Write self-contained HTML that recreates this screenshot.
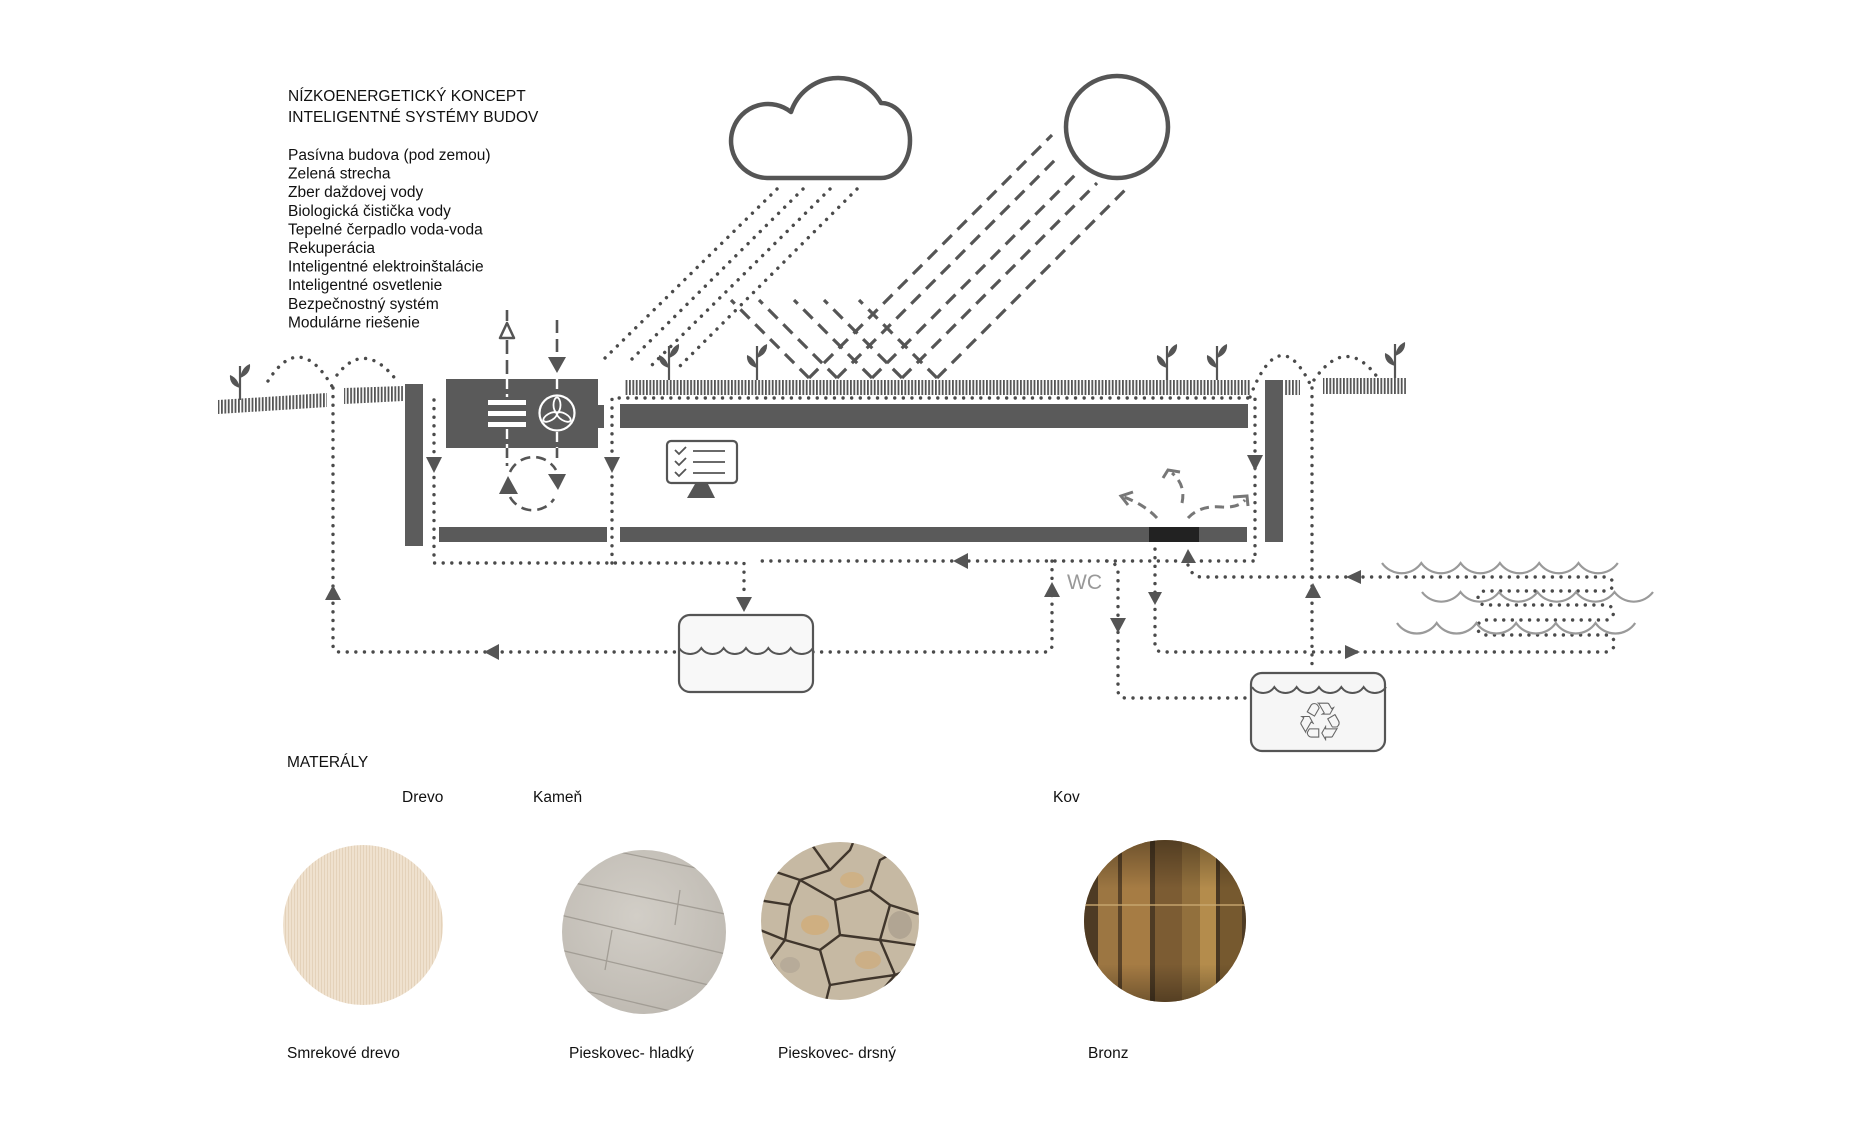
<!DOCTYPE html>
<html><head><meta charset="utf-8">
<style>
html,body{margin:0;padding:0;background:#fff;}
svg{display:block;}
text{font-family:"Liberation Sans",Arial,sans-serif;}
.d{fill:none;stroke:#4a4a4a;stroke-width:3.4;stroke-linecap:round;stroke-dasharray:0.01 8.6;}
.s{fill:none;stroke:#555;stroke-width:3.2;stroke-dasharray:13 8;}
.h{fill:none;stroke:#777;stroke-width:3;stroke-dasharray:9 6;}
.hs{fill:none;stroke:#777;stroke-width:3;}
.a{fill:#555;}
.wv{fill:none;stroke:#9a9a9a;stroke-width:2.2;}
</style></head><body>
<svg width="1872" height="1125" viewBox="0 0 1872 1125" xmlns="http://www.w3.org/2000/svg">
<defs>
<pattern id="g" width="3.4" height="40" patternUnits="userSpaceOnUse"><rect width="1.8" height="40" fill="#555"/></pattern>
<pattern id="wd" width="3" height="12" patternUnits="userSpaceOnUse"><rect width="3" height="12" fill="#efe1ce"/><rect width="1" height="12" fill="#e4d2ba"/></pattern>
<clipPath id="cw"><circle cx="363" cy="925" r="80"/></clipPath>
<clipPath id="cs"><circle cx="644" cy="932" r="82"/></clipPath>
<clipPath id="cr"><circle cx="840" cy="921" r="79"/></clipPath>
<clipPath id="cb"><circle cx="1165" cy="921" r="81"/></clipPath>
<radialGradient id="sg" cx="0.45" cy="0.4" r="0.7"><stop offset="0" stop-color="#d2cec7"/><stop offset="1" stop-color="#bcb7af"/></radialGradient>
<linearGradient id="bg" x1="0" y1="0" x2="0" y2="1"><stop offset="0" stop-color="#000" stop-opacity="0.35"/><stop offset="0.3" stop-color="#000" stop-opacity="0"/><stop offset="0.75" stop-color="#000" stop-opacity="0"/><stop offset="1" stop-color="#000" stop-opacity="0.35"/></linearGradient>
<g id="plant"><line x1="0" y1="0" x2="0" y2="-34" stroke="#555" stroke-width="2.2"/><path d="M0 -22 Q2 -33 10 -36 Q11 -26 0 -22Z" fill="#555"/><path d="M0 -12 Q-2 -22 -10 -25 Q-11 -15 0 -12Z" fill="#555"/></g>
</defs>

<!-- Left text -->
<g font-size="15.5" fill="#111">
<text x="288" y="101">NÍZKOENERGETICKÝ KONCEPT</text>
<text x="288" y="122">INTELIGENTNÉ SYSTÉMY BUDOV</text>
<text x="288" y="160">Pasívna budova (pod zemou)</text>
<text x="288" y="178.6">Zelená strecha</text>
<text x="288" y="197.2">Zber daždovej vody</text>
<text x="288" y="215.8">Biologická čistička vody</text>
<text x="288" y="234.4">Tepelné čerpadlo voda-voda</text>
<text x="288" y="253">Rekuperácia</text>
<text x="288" y="271.6">Inteligentné elektroinštalácie</text>
<text x="288" y="290.2">Inteligentné osvetlenie</text>
<text x="288" y="308.8">Bezpečnostný systém</text>
<text x="288" y="327.4">Modulárne riešenie</text>
</g>

<!-- Cloud and sun -->
<path d="M767 178 A37 37 0 1 1 791 112 A49.5 49.5 0 0 1 881 103 A29 37.5 0 0 1 881 178 Z" fill="#fff" stroke="#555" stroke-width="4.5" stroke-linejoin="round"/>
<circle cx="1117" cy="127" r="51" fill="#fff" stroke="#555" stroke-width="4.5"/>

<!-- Rain -->
<path class="d" d="M777 189 L602 361"/>
<path class="d" d="M803 189 L628 363"/>
<path class="d" d="M830 189 L652 365"/>
<path class="d" d="M857 189 L676 370"/>

<!-- Sun rays -->
<path class="s" d="M809 378 L1052 135 M809 378 L731 300"/>
<path class="s" d="M837 378 L1058 157 M837 378 L759 300"/>
<path class="s" d="M872 378 L1077 173 M872 378 L794 300"/>
<path class="s" d="M902 378 L1097 183 M902 378 L824 300"/>
<path class="s" d="M937 378 L1128 187 M937 378 L859 300"/>

<!-- Ground hatches -->
<polygon points="218,400 327,393 327,407 218,414" fill="url(#g)"/>
<polygon points="344,388 403,386 403,401 344,404" fill="url(#g)"/>
<rect x="625" y="380" width="625" height="15" fill="url(#g)"/>
<rect x="1285" y="380" width="15" height="15" fill="url(#g)"/>
<rect x="1323" y="378" width="83" height="16" fill="url(#g)"/>

<!-- Plants -->
<use href="#plant" x="240" y="400"/>
<use href="#plant" x="669" y="380"/>
<use href="#plant" x="757" y="380"/>
<use href="#plant" x="1167" y="380"/>
<use href="#plant" x="1217" y="380"/>
<use href="#plant" x="1395" y="378"/>

<!-- Structure -->
<rect x="405" y="384" width="18" height="162" fill="#5c5c5c"/>
<rect x="1265" y="380" width="18" height="162" fill="#5c5c5c"/>
<rect x="446" y="379" width="152" height="69" fill="#5a5a5a"/>
<rect x="598" y="405" width="6" height="23" fill="#5a5a5a"/>
<rect x="620" y="404" width="628" height="24" fill="#5a5a5a"/>
<rect x="439" y="527" width="168" height="15" fill="#5a5a5a"/>
<rect x="620" y="527" width="627" height="15" fill="#5a5a5a"/>
<rect x="1149" y="527" width="50" height="15" fill="#222"/>

<!-- HVAC details -->
<rect x="488" y="400" width="38" height="5" fill="#fff"/>
<rect x="488" y="411" width="38" height="5" fill="#fff"/>
<rect x="488" y="422" width="38" height="5" fill="#fff"/>
<circle cx="557" cy="413" r="17.5" fill="none" stroke="#fff" stroke-width="2.2"/>
<g fill="none" stroke="#fff" stroke-width="1.8">
<ellipse cx="557" cy="405" rx="3.5" ry="7.5"/>
<ellipse cx="557" cy="405" rx="3.5" ry="7.5" transform="rotate(120 557 413)"/>
<ellipse cx="557" cy="405" rx="3.5" ry="7.5" transform="rotate(240 557 413)"/>
</g>
<line x1="507" y1="310" x2="507" y2="321" stroke="#555" stroke-width="2.6"/>
<polygon points="500,338 514,338 507,323" fill="#fff" stroke="#555" stroke-width="2.5" stroke-linejoin="round"/>
<line x1="507" y1="340" x2="507" y2="379" stroke="#555" stroke-width="2.6" stroke-dasharray="14 6"/>
<line x1="557" y1="320" x2="557" y2="357" stroke="#555" stroke-width="2.6" stroke-dasharray="13 6"/>
<polygon class="a" points="548,357 566,357 557,373"/>
<line x1="507" y1="379" x2="507" y2="397" stroke="#fff" stroke-width="2.4" stroke-dasharray="10 5"/>
<line x1="507" y1="429" x2="507" y2="448" stroke="#fff" stroke-width="2.4" stroke-dasharray="10 5"/>
<line x1="557" y1="379" x2="557" y2="394" stroke="#fff" stroke-width="2.4" stroke-dasharray="10 5"/>
<line x1="557" y1="432" x2="557" y2="448" stroke="#fff" stroke-width="2.4" stroke-dasharray="10 5"/>
<line x1="507" y1="448" x2="507" y2="466" stroke="#555" stroke-width="2.6" stroke-dasharray="10 5"/>
<line x1="557" y1="448" x2="557" y2="462" stroke="#555" stroke-width="2.6" stroke-dasharray="10 5"/>
<path d="M510 472 A26 26 0 0 1 556 470" fill="none" stroke="#555" stroke-width="2.6" stroke-dasharray="10 6"/>
<path d="M510 497 A26 26 0 0 0 554 499" fill="none" stroke="#555" stroke-width="2.6" stroke-dasharray="10 6"/>
<polygon class="a" points="499,494 518,494 508,476"/>
<polygon class="a" points="548,474 566,474 558,490"/>

<!-- Monitor -->
<rect x="667" y="441" width="70" height="42" rx="4" fill="#fff" stroke="#555" stroke-width="2.2"/>
<polygon points="695,484 708,484 715,498 687,498" fill="#555"/>
<g fill="none" stroke="#555" stroke-width="1.8">
<polyline points="675,450 679,454 686,447"/><line x1="693" y1="451" x2="725" y2="451"/>
<polyline points="675,461 679,465 686,458"/><line x1="693" y1="462" x2="725" y2="462"/>
<polyline points="675,472 679,476 686,469"/><line x1="693" y1="473" x2="725" y2="473"/>
</g>

<!-- Heat arrows -->
<path class="h" d="M1157 518 Q1145 505 1124 497"/>
<path class="hs" d="M1133 492 L1121 496 L1128 505"/>
<path class="h" d="M1182 503 Q1186 485 1172 473"/>
<path class="hs" d="M1163 478 L1168 470 L1180 472"/>
<path class="h" d="M1188 518 Q1200 505 1222 507 Q1238 508 1245 500"/>
<path class="hs" d="M1233 497 L1247 496 L1248 506"/>

<!-- Dotted flows -->
<path class="d" d="M268 381 Q300 330 333 388"/>
<path class="d" d="M337 375 Q365 339 397 381"/>
<path class="d" d="M1250 397 Q1280 319 1312 388"/>
<path class="d" d="M1314 380 Q1346 334 1378 378"/>
<path class="d" d="M333 388 V645 Q333 652 340 652 H679"/>
<path class="d" d="M813 652 H1045 Q1052 652 1052 645 V561"/>
<path class="d" d="M434 400 V563 H744 V597"/>
<path class="d" d="M612 563 V398 H1255 V561 H755"/>
<path class="d" d="M1107 561 Q1118 563 1118 572 V690 Q1118 698 1126 698 H1251"/>
<path class="d" d="M1188 565 Q1192 577 1202 577 H1606 A7 7 0 0 1 1606 591 H1485 A7 7 0 0 0 1485 605 H1606 A7.5 7.5 0 0 1 1606 620 H1485 A7.5 7.5 0 0 0 1485 635 H1606 A8.5 8.5 0 0 1 1606 652 H1163 Q1155 652 1155 644 V549"/>
<path class="d" d="M1312 388 V668"/>

<!-- Arrowheads -->
<polygon class="a" points="426,457 442,457 434,473"/>
<polygon class="a" points="604,457 620,457 612,473"/>
<polygon class="a" points="1247,455 1263,455 1255,471"/>
<polygon class="a" points="325,600 341,600 333,585"/>
<polygon class="a" points="499,644 499,660 484,652"/>
<polygon class="a" points="736,597 752,597 744,612"/>
<polygon class="a" points="968,553 968,569 953,561"/>
<polygon class="a" points="1044,597 1060,597 1052,582"/>
<polygon class="a" points="1110,618 1126,618 1118,633"/>
<polygon class="a" points="1148,592 1162,592 1155,605"/>
<polygon class="a" points="1181,563 1196,563 1188,549"/>
<polygon class="a" points="1305,598 1321,598 1313,583"/>
<polygon class="a" points="1361,570 1361,584 1346,577"/>
<polygon class="a" points="1345,645 1345,659 1360,652"/>

<!-- WC -->
<text x="1067" y="589" font-size="21" fill="#999">WC</text>

<!-- Water waves (right) -->
<path class="wv" d="M1382 563 a24 24 0 0 0 39.3 0 a24 24 0 0 0 39.3 0 a24 24 0 0 0 39.3 0 a24 24 0 0 0 39.3 0 a24 24 0 0 0 39.3 0 a24 24 0 0 0 39.3 0"/>
<path class="wv" d="M1422 592 a24 24 0 0 0 38.5 0 a24 24 0 0 0 38.5 0 a24 24 0 0 0 38.5 0 a24 24 0 0 0 38.5 0 a24 24 0 0 0 38.5 0 a24 24 0 0 0 38.5 0"/>
<path class="wv" d="M1397 623 a24 24 0 0 0 39.7 0 a24 24 0 0 0 39.7 0 a24 24 0 0 0 39.7 0 a24 24 0 0 0 39.7 0 a24 24 0 0 0 39.7 0 a24 24 0 0 0 39.7 0"/>

<!-- Tank 1 -->
<rect x="679" y="615" width="134" height="77" rx="11" fill="#f8f8f8" stroke="#555" stroke-width="2.2"/>
<path d="M679 648 a13.4 13.4 0 0 0 22.33 0 a13.4 13.4 0 0 0 22.33 0 a13.4 13.4 0 0 0 22.33 0 a13.4 13.4 0 0 0 22.33 0 a13.4 13.4 0 0 0 22.33 0 a13.4 13.4 0 0 0 22.33 0" fill="none" stroke="#555" stroke-width="2"/>

<!-- Recycle tank -->
<rect x="1251" y="673" width="134" height="78" rx="11" fill="#f6f6f6" stroke="#555" stroke-width="2.2"/>
<path d="M1252 687 a13.4 13.4 0 0 0 22.33 0 a13.4 13.4 0 0 0 22.33 0 a13.4 13.4 0 0 0 22.33 0 a13.4 13.4 0 0 0 22.33 0 a13.4 13.4 0 0 0 22.33 0 a13.4 13.4 0 0 0 22.33 0" fill="none" stroke="#555" stroke-width="2"/>
<text x="1320" y="741" font-size="54" fill="#666" text-anchor="middle" style="font-family:'DejaVu Sans',sans-serif">♲</text>

<!-- Materials -->
<g font-size="15.5" fill="#111">
<text x="287" y="767">MATERÁLY</text>
<text x="402" y="802">Drevo</text>
<text x="533" y="802">Kameň</text>
<text x="1053" y="802">Kov</text>
<text x="287" y="1058">Smrekové drevo</text>
<text x="569" y="1058">Pieskovec- hladký</text>
<text x="778" y="1058">Pieskovec- drsný</text>
<text x="1088" y="1058">Bronz</text>
</g>

<!-- Wood -->
<circle cx="363" cy="925" r="80" fill="url(#wd)"/>

<!-- Smooth stone -->
<g clip-path="url(#cs)">
<rect x="560" y="848" width="170" height="170" fill="url(#sg)"/>
<g stroke="#a29d95" stroke-width="1.3" fill="none">
<path d="M560 880 L730 915"/><path d="M560 915 L730 955"/><path d="M560 950 L730 990"/><path d="M560 985 L730 1025"/><path d="M600 848 L730 875"/>
<path d="M612 930 L605 970"/><path d="M680 890 L675 925"/>
</g>
</g>

<!-- Rough stone -->
<g clip-path="url(#cr)">
<rect x="758" y="840" width="165" height="165" fill="#c6b9a3"/>
<ellipse cx="815" cy="925" rx="14" ry="10" fill="#d6a96a" opacity="0.6"/>
<ellipse cx="852" cy="880" rx="12" ry="8" fill="#d6a96a" opacity="0.5"/>
<ellipse cx="868" cy="960" rx="13" ry="9" fill="#d2a56a" opacity="0.5"/>
<ellipse cx="790" cy="965" rx="10" ry="8" fill="#b0a594" opacity="0.7"/>
<ellipse cx="900" cy="925" rx="12" ry="14" fill="#a89d8c" opacity="0.7"/>
<g fill="none" stroke="#40362c" stroke-width="2.4" stroke-linejoin="round">
<path d="M758 900 L790 905 L800 880 L830 870 L850 850 L855 838"/>
<path d="M790 905 L785 940 L770 960 L758 965"/>
<path d="M785 940 L820 950 L830 985 L825 1005"/>
<path d="M800 880 L835 900 L870 890 L880 860 L902 848"/>
<path d="M835 900 L840 935 L820 950"/>
<path d="M840 935 L880 940 L890 905 L870 890"/>
<path d="M880 940 L895 975 L870 1005"/>
<path d="M890 905 L922 915"/>
<path d="M880 940 L922 946"/>
<path d="M830 870 L812 845"/>
<path d="M760 930 L785 940"/>
<path d="M895 975 L920 965"/>
<path d="M830 985 L860 980 L895 975"/>
<path d="M770 870 L800 880"/>
<path d="M770 960 L790 990"/>
</g>
</g>

<!-- Bronze -->
<g clip-path="url(#cb)">
<rect x="1080" y="838" width="170" height="168" fill="#8a6a3c"/>
<rect x="1080" y="838" width="18" height="168" fill="#4e3b24"/>
<rect x="1098" y="838" width="20" height="168" fill="#9c7642"/>
<rect x="1118" y="838" width="4" height="168" fill="#5a4328"/>
<rect x="1122" y="838" width="28" height="168" fill="#a67c44"/>
<rect x="1150" y="838" width="5" height="168" fill="#4e3b24"/>
<rect x="1155" y="838" width="27" height="168" fill="#7c5c33"/>
<rect x="1182" y="838" width="18" height="168" fill="#92703d"/>
<rect x="1200" y="838" width="16" height="168" fill="#b48c4c"/>
<rect x="1216" y="838" width="4" height="168" fill="#4a3822"/>
<rect x="1220" y="838" width="22" height="168" fill="#76592f"/>
<rect x="1242" y="838" width="10" height="168" fill="#4e3b24"/>
<rect x="1080" y="904" width="170" height="2" fill="#c9a870" opacity="0.7"/>
<rect x="1080" y="838" width="170" height="168" fill="url(#bg)"/>
</g>
</svg>
</body></html>
